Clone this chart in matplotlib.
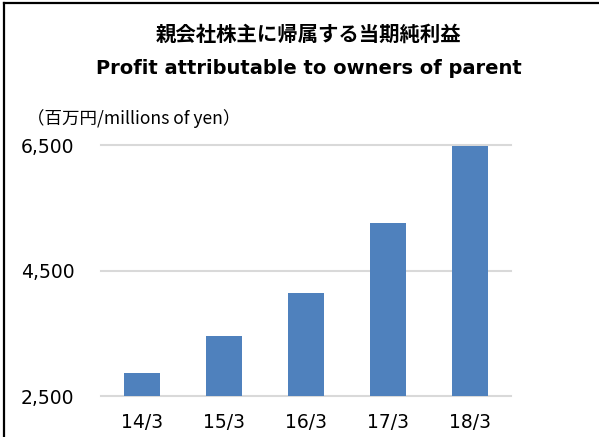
import matplotlib.pyplot as plt
from matplotlib.lines import Line2D
from matplotlib.ticker import FuncFormatter

# data
periods = ["14/3", "15/3", "16/3", "17/3", "18/3"]
profit = [2871, 3466, 4146, 5262, 6495]
y_ticks = [2500, 4500, 6500]

W, H = 599, 437
fig = plt.figure(figsize=(W / 100, H / 100), dpi=100)

# frame lines (top and left only visible in the reference)
fig.add_artist(Line2D([4 / W, 4 / W], [0, 1 - 3 / H], color="black", lw=1.6))
fig.add_artist(Line2D([4 / W, 1], [1 - 3 / H, 1 - 3 / H], color="black", lw=1.6))

# titles
fig.text(308.5 / W, 1 - 34 / H, "親会社株主に帰属する当期純利益", ha="center", va="center",
         fontsize=14.7, fontweight="bold", family=["Noto Sans CJK JP", "DejaVu Sans"])
fig.text(308.5 / W, 1 - 69 / H, "Profit attributable to owners of parent", ha="center", va="center",
         fontsize=14, fontweight="bold", family=["DejaVu Sans"])
fig.text(27.5 / W, 1 - 119 / H, "（百万円/millions of yen）", ha="left", va="center",
         fontsize=12.6, family=["Noto Sans CJK JP", "DejaVu Sans"])

# plot area in pixel coordinates
left, right = 100.7, 510.7
top, bottom = 145.3, 396.3
ax = fig.add_axes([left / W, 1 - bottom / H, (right - left) / W, (bottom - top) / H])

x = range(len(periods))
ax.bar(x, profit, width=0.44, color="#4F81BD", zorder=3)

ax.set_xlim(-0.5, len(periods) - 0.5)
ax.set_ylim(y_ticks[0], y_ticks[-1])
ax.set_yticks(y_ticks)
ax.yaxis.set_major_formatter(FuncFormatter(lambda v, p: f"{int(v):,}"))
ax.set_xticks(list(x))
ax.set_xticklabels(periods)

for yv in y_ticks:
    ax.axhline(yv, color="#D9D9D9", lw=1.5, zorder=0, clip_on=False)
for s in ax.spines.values():
    s.set_visible(False)
ax.tick_params(axis="both", length=0, labelsize=13.5, colors="black")
ax.tick_params(axis="y", pad=19)
ax.tick_params(axis="x", pad=12)

fig.savefig("out.png", dpi=100)
